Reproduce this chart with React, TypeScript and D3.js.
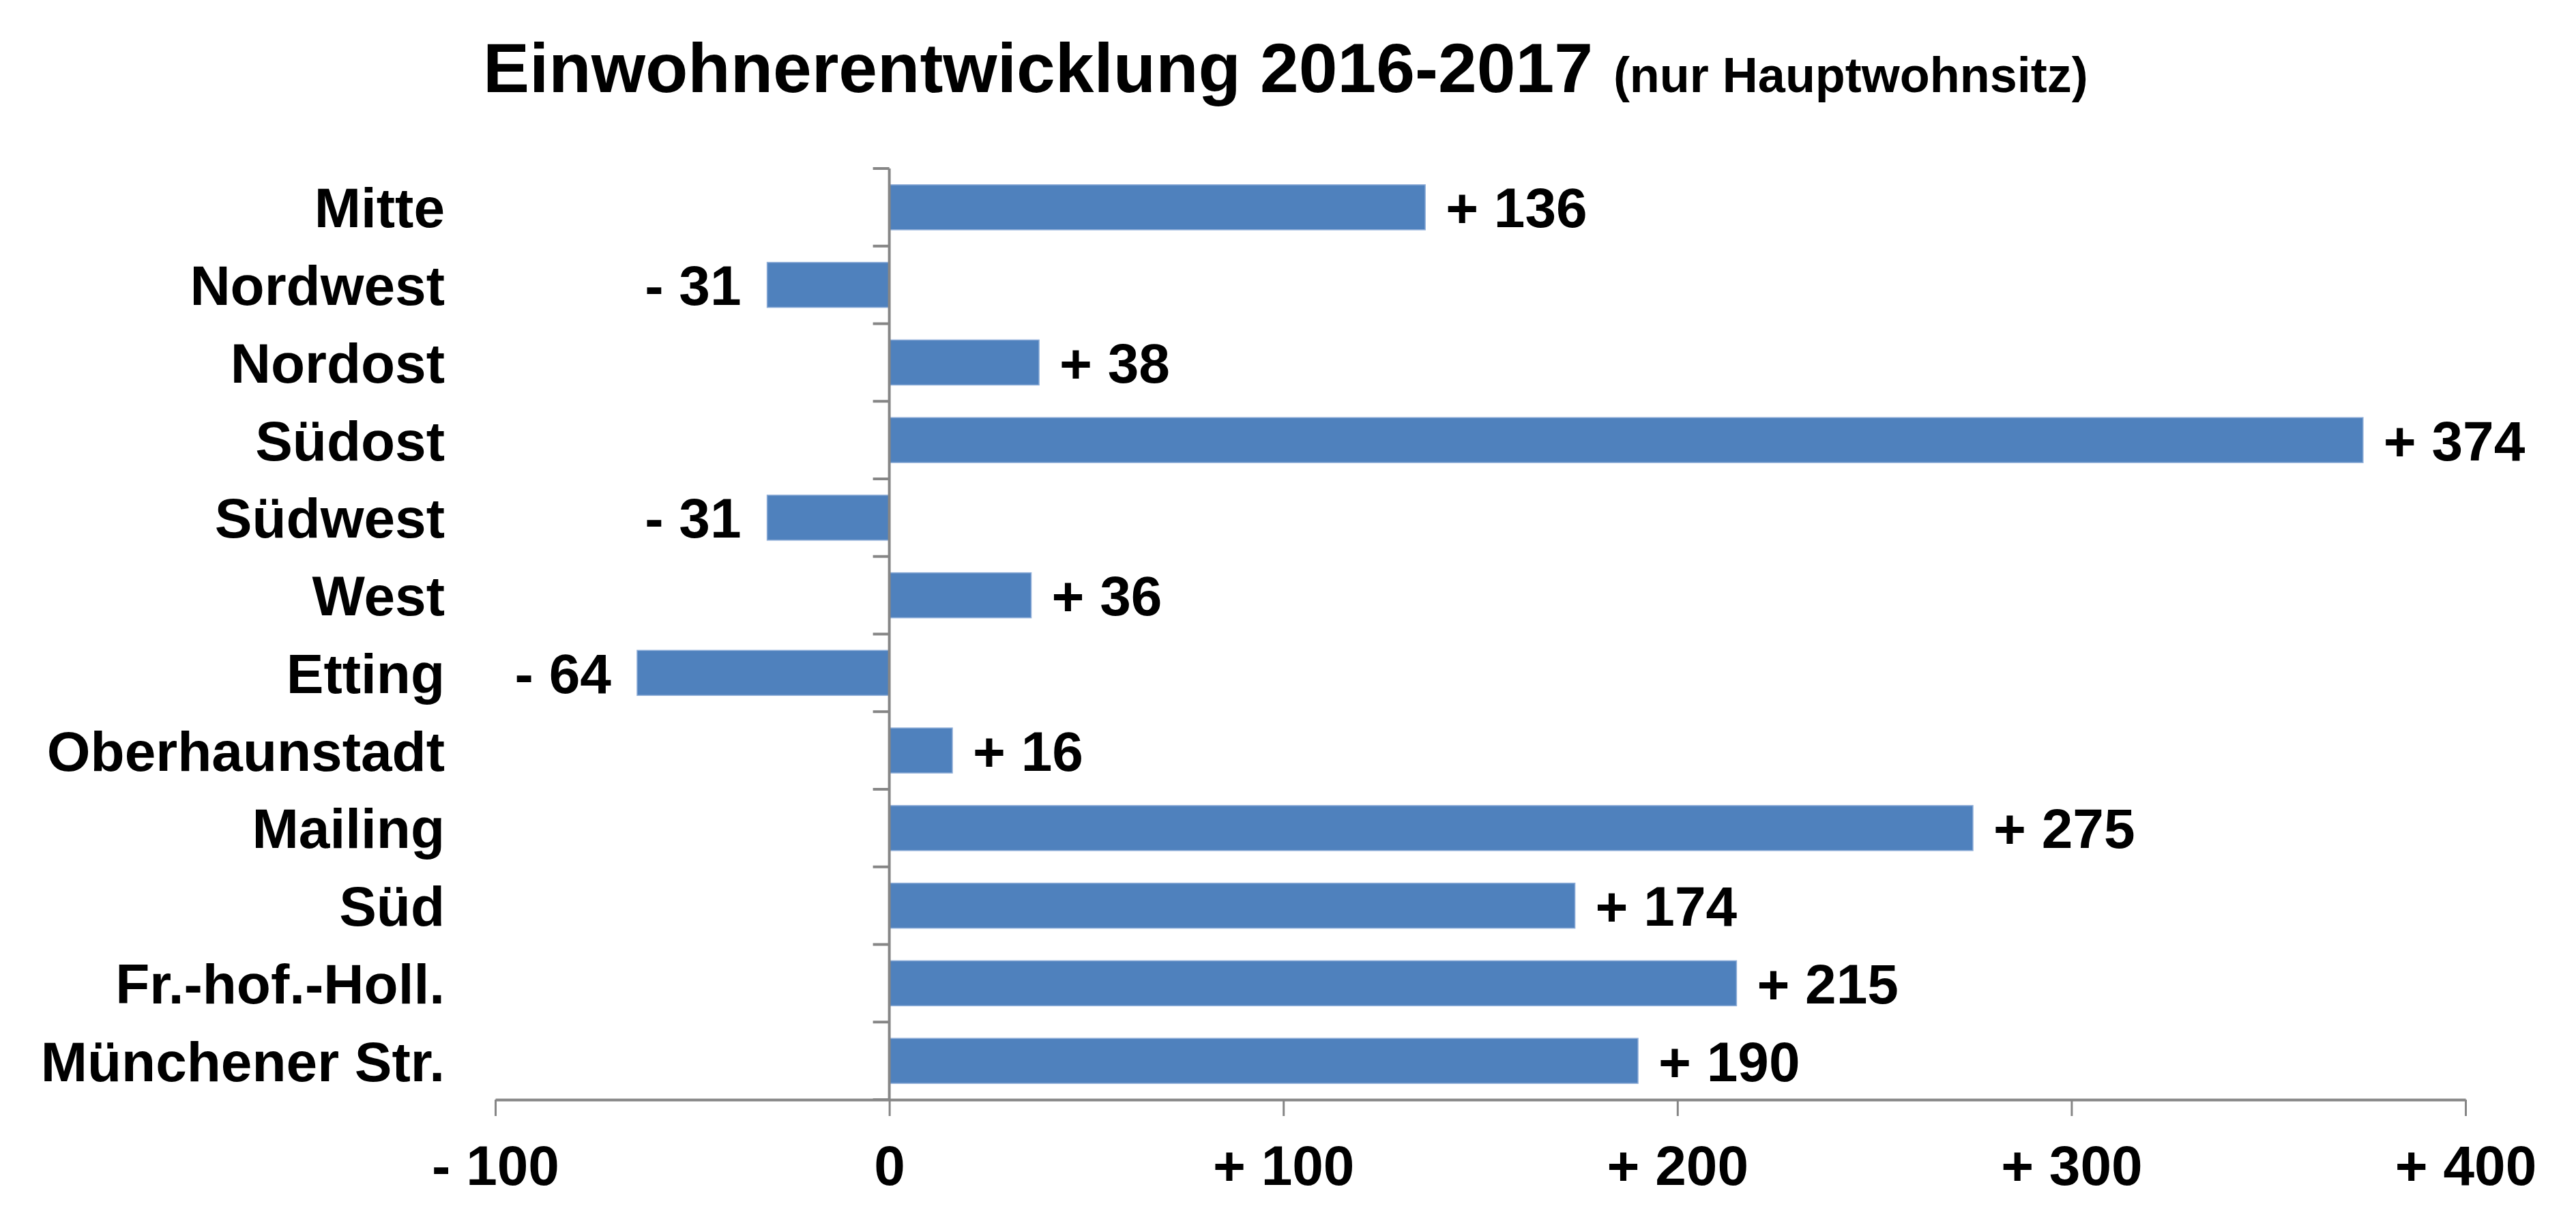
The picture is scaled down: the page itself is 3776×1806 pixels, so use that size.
import * as d3 from "d3";
import { useEffect, useRef } from "react";

const categories = [
  "Mitte",
  "Nordwest",
  "Nordost",
  "Südost",
  "Südwest",
  "West",
  "Etting",
  "Oberhaunstadt",
  "Mailing",
  "Süd",
  "Fr.-hof.-Holl.",
  "Münchener Str.",
];
const changes = [136, -31, 38, 374, -31, 36, -64, 16, 275, 174, 215, 190];
const xTicks = [-100, 0, 100, 200, 300, 400];

const titleMain = "Einwohnerentwicklung 2016-2017";
const titleSub = "(nur Hauptwohnsitz)";

const FONT = "'Liberation Sans', Arial, Helvetica, sans-serif";
const BAR = "#4F81BD";
const AXIS = "#868686";

function signed(v: number) {
  if (v > 0) return `+ ${v}`;
  if (v < 0) return `- ${Math.abs(v)}`;
  return "0";
}

export default function App() {
  const width = 3776;
  const height = 1806;
  const plotLeft = 726;
  const plotRight = 3614;
  const plotTop = 247;
  const plotBottom = 1612;

  const axisBottomRef = useRef<SVGGElement>(null);

  const scaleX = d3.scaleLinear().domain([-100, 400]).range([plotLeft, plotRight]);
  const scaleY = d3
    .scaleBand()
    .domain(categories)
    .range([plotTop, plotBottom])
    .paddingInner(0.42)
    .paddingOuter(0.21);

  const step = scaleY.step();
  const x0 = scaleX(0);

  useEffect(() => {
    if (!axisBottomRef.current) return;
    const g = d3.select(axisBottomRef.current);
    g.call(
      d3
        .axisBottom(scaleX)
        .tickValues(xTicks)
        .tickFormat((d) => signed(d as number))
        .tickSize(24)
        .tickSizeOuter(0)
        .tickPadding(43)
    );
    g.select(".domain").attr("stroke", AXIS).attr("stroke-width", 4);
    g.selectAll(".tick line").attr("stroke", AXIS).attr("stroke-width", 3);
    g.selectAll(".tick text")
      .attr("fill", "#000")
      .style("font-family", FONT)
      .style("font-size", "82px")
      .style("font-weight", "bold");
  }, [scaleX]);

  return (
    <svg
      width={width}
      height={height}
      style={{ position: "absolute", left: 0, top: 0, background: "#fff" }}
    >
      {/* title */}
      <text
        x={708}
        y={135}
        fontFamily={FONT}
        fontWeight="bold"
        fontSize={102}
        fill="#000"
      >
        {titleMain}
        <tspan fontSize={72} dx={30}>
          {titleSub}
        </tspan>
      </text>

      {/* bars */}
      {categories.map((c, i) => {
        const v = changes[i];
        const xs = scaleX(Math.min(0, v));
        const xe = scaleX(Math.max(0, v));
        return (
          <rect
            key={c}
            x={xs}
            y={scaleY(c)}
            width={xe - xs}
            height={scaleY.bandwidth()}
            fill={BAR}
            stroke="#8FAED8"
            strokeWidth={1.5}
          />
        );
      })}

      {/* value labels */}
      {categories.map((c, i) => {
        const v = changes[i];
        const yc = (scaleY(c) ?? 0) + scaleY.bandwidth() / 2;
        return (
          <text
            key={`v-${c}`}
            x={v >= 0 ? scaleX(v) + 30 : scaleX(v) - 38}
            y={yc}
            dy="0.36em"
            textAnchor={v >= 0 ? "start" : "end"}
            fontFamily={FONT}
            fontWeight="bold"
            fontSize={82}
            fill="#000"
          >
            {signed(v)}
          </text>
        );
      })}

      {/* vertical category axis */}
      <g>
        <line
          x1={x0}
          x2={x0}
          y1={plotTop}
          y2={plotBottom}
          stroke={AXIS}
          strokeWidth={4}
        />
        {d3.range(categories.length + 1).map((i) => (
          <line
            key={`t-${i}`}
            x1={x0 - 24}
            x2={x0}
            y1={plotTop + i * step}
            y2={plotTop + i * step}
            stroke={AXIS}
            strokeWidth={4}
          />
        ))}
        {categories.map((c) => (
          <text
            key={`l-${c}`}
            x={652}
            y={(scaleY(c) ?? 0) + scaleY.bandwidth() / 2}
            dy="0.36em"
            textAnchor="end"
            fontFamily={FONT}
            fontWeight="bold"
            fontSize={82}
            fill="#000"
          >
            {c}
          </text>
        ))}
      </g>

      {/* horizontal value axis */}
      <g ref={axisBottomRef} transform={`translate(0, ${plotBottom})`} />
    </svg>
  );
}
